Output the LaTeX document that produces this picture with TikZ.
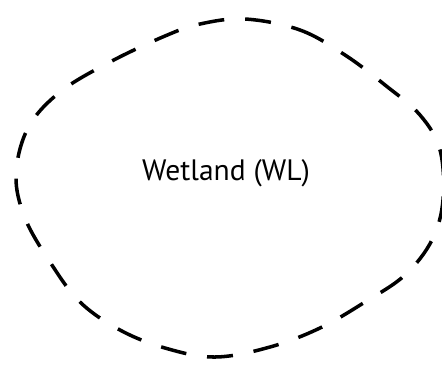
\documentclass[tikz,border=0pt]{standalone}
\usepackage{fontspec}
\setmainfont{PT Sans}
\usetikzlibrary{positioning}

\begin{document}
\begin{tikzpicture}[x=0.02cm, y=-0.02cm]
    \useasboundingbox (0,0) rectangle (442,366);
    \draw[line width=2pt, dash pattern=on 0.52cm off 0.42cm, smooth cycle, tension=0.6]
        plot coordinates {(245,19) (300,30) (345,55) (385,85) (420,115) (440,150) (443,200)
        (432,240) (405,275) (365,302) (320,328) (270,347) (215,357) (165,348) (120,330)
        (80,302) (50,262) (25,218) (16,175) (28,128) (60,92) (110,62) (165,36) (200,24)};
    \node[font=\fontsize{16.8}{20}\selectfont] (wl) at (226,173) {Wetland (WL)};
\end{tikzpicture}
\end{document}
